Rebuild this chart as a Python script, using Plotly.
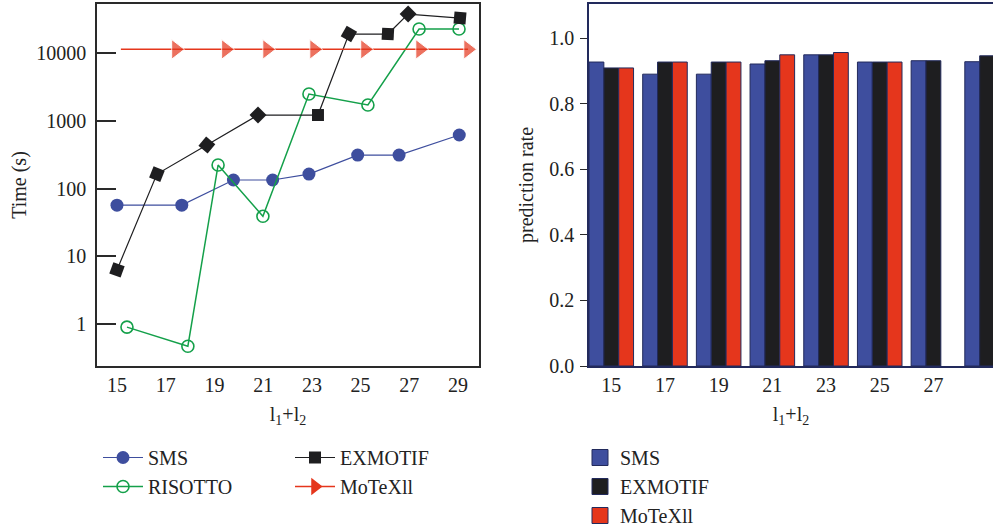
import plotly.graph_objects as go

# ---------------- data ----------------
# left panel: running time (s), log scale, x = l1+l2 as drawn
sms_x = [15.0, 17.66, 19.78, 21.39, 22.88, 24.88, 26.58, 29.05]
sms_y = [57, 57, 134, 134, 164, 313, 313, 619]

exm_x = [15.0, 16.64, 18.69, 20.79, 23.25, 24.52, 26.12, 26.95, 29.08]
exm_y = [6.3, 164, 441, 1222, 1222, 19200, 19200, 37900, 33100]

ris_x = [15.41, 17.91, 19.15, 20.99, 22.88, 25.30, 27.40, 29.04]
ris_y = [0.90, 0.47, 223, 39, 2500, 1718, 22800, 22800]

mot_x = [15.16, 17.42, 19.47, 21.16, 23.09, 25.18, 27.44, 29.41]
mot_y = [11400, 11400, 11400, 11400, 11400, 11400, 11400, 11400]

x_ticks = [15, 17, 19, 21, 23, 25, 27, 29]
y_ticks = [1, 10, 100, 1000, 10000]
y_tick_text = ["1", "10", "100", "1000", "10000"]

# right panel: prediction rate
cats = [15, 17, 19, 21, 23, 25, 27, 29]
sms_rate = [0.927, 0.890, 0.890, 0.921, 0.949, 0.927, 0.931, 0.928]
exm_rate = [0.909, 0.927, 0.927, 0.931, 0.949, 0.927, 0.931, 0.946]
mot_rate = [0.909, 0.927, 0.927, 0.949, 0.956, 0.927, None, None]
rate_ticks = [0.0, 0.2, 0.4, 0.6, 0.8, 1.0]
rate_tick_text = ["0.0", "0.2", "0.4", "0.6", "0.8", "1.0"]

# ---------------- styles ----------------
BLUE = "#3e4e9e"
BLACK = "#1e1e20"
GREEN = "#14a04a"
RED = "#e5361c"
NAVY = "#222a5c"
FONT = "Liberation Serif"
TXT = "#222222"
exm_angles = [20, 22, 40, 45, 0, 30, 3, 45, 5]
mot_sizes = [0, 17, 17, 17, 17, 17, 17, 17]

fig = go.Figure()

line_series = [
    ("SMS", sms_x, sms_y, dict(color=BLUE, width=1.2),
     dict(symbol="circle", size=13, color=BLUE), "legend"),
    ("RISOTTO", ris_x, ris_y, dict(color=GREEN, width=1.5),
     dict(symbol="circle-open", size=12, color=GREEN, line=dict(width=1.6, color=GREEN)), "legend"),
    ("EXMOTIF", exm_x, exm_y, dict(color=BLACK, width=1.2),
     dict(symbol="square", size=12, color=BLACK, angle=exm_angles), "legend2"),
    ("MoTeXll", mot_x, mot_y, dict(color=RED, width=1.5),
     dict(symbol="triangle-right", size=mot_sizes, color=RED), "legend2"),
]
for name, xs, ys, ln, mk, lg in line_series:
    fig.add_trace(go.Scatter(x=xs, y=ys, name=name, mode="lines+markers",
                             line=ln, marker=mk, xaxis="x", yaxis="y", showlegend=False))
    # legend entry with an upright marker
    mk_leg = dict(mk)
    mk_leg.pop("angle", None)
    if isinstance(mk_leg.get("size"), list):
        mk_leg["size"] = 15
    fig.add_trace(go.Scatter(x=[None], y=[None], name=name, mode="lines+markers",
                             line=ln, marker=mk_leg, xaxis="x", yaxis="y", legend=lg))

for name, vals, col in [("SMS", sms_rate, BLUE), ("EXMOTIF", exm_rate, BLACK), ("MoTeXll", mot_rate, RED)]:
    fig.add_trace(go.Bar(
        x=cats, y=vals, name=name, showlegend=False,
        marker=dict(color=col, line=dict(color=NAVY, width=1)),
        xaxis="x2", yaxis="y2"))
    fig.add_trace(go.Scatter(
        x=[None], y=[None], name=name, mode="markers",
        marker=dict(symbol="square", size=17, color=col, line=dict(color=NAVY, width=1)),
        xaxis="x2", yaxis="y2", legend="legend3"))

W, H = 993, 529
def px(v):
    return v / W
def py(v):
    return 1 - v / H

axis_font = dict(family=FONT, size=20, color=TXT)
leg_font = dict(family=FONT, size=20, color=TXT)

fig.update_layout(
    width=W, height=H,
    margin=dict(l=0, r=0, t=0, b=0, autoexpand=False),
    paper_bgcolor="white", plot_bgcolor="white",
    font=dict(family=FONT, size=20, color=TXT),
    barmode="group", bargap=0.17, bargroupgap=0,
    xaxis=dict(
        domain=[px(97), px(479)], range=[14.18, 29.86],
        tickvals=x_ticks, ticktext=[str(v) for v in x_ticks],
        showgrid=False, zeroline=False, showline=True, linecolor="#2a2a2a", linewidth=1.5,
        mirror=True, ticks="", tickfont=axis_font, ticklabelstandoff=0,
        title=dict(text="l<sub>1</sub>+l<sub>2</sub>", font=axis_font, standoff=12),
        anchor="y"),
    yaxis=dict(
        domain=[py(366), py(4)], type="log", range=[-0.620, 4.727],
        tickvals=y_ticks, ticktext=y_tick_text,
        showgrid=False, zeroline=False, showline=True, linecolor="#2a2a2a", linewidth=1.5,
        mirror=True, ticks="inside", ticklen=19, tickwidth=1.5, tickcolor="#2a2a2a",
        tickfont=axis_font, ticklabelstandoff=5,
        title=dict(text="Time (s)", font=axis_font, standoff=4),
        anchor="x"),
    xaxis2=dict(
        domain=[px(589), 1.0], range=[14.17, 29.22],
        tickvals=cats, ticktext=[str(v) for v in cats],
        showgrid=False, zeroline=False, showline=True, linecolor=NAVY, linewidth=1.5,
        mirror=True, ticks="", tickfont=axis_font, ticklabelstandoff=0,
        title=dict(text="l<sub>1</sub>+l<sub>2</sub>", font=axis_font, standoff=12),
        anchor="y2"),
    yaxis2=dict(
        domain=[py(366), py(4)], range=[0, 1.104],
        tickvals=rate_ticks, ticktext=rate_tick_text,
        showgrid=False, zeroline=False, showline=True, linecolor=NAVY, linewidth=1.5,
        ticks="outside", ticklen=7, tickwidth=1.2, tickcolor="#2a2a2a",
        tickfont=axis_font, ticklabelstandoff=2,
        title=dict(text="prediction rate", font=axis_font, standoff=10),
        anchor="x2"),
    legend=dict(x=px(98), y=py(438), xanchor="left", yanchor="top",
                bgcolor="rgba(0,0,0,0)", font=leg_font, itemwidth=40, tracegroupgap=0),
    legend2=dict(x=px(290), y=py(438), xanchor="left", yanchor="top",
                 bgcolor="rgba(0,0,0,0)", font=leg_font, itemwidth=40, tracegroupgap=0),
    legend3=dict(x=px(580), y=py(438), xanchor="left", yanchor="top",
                 bgcolor="rgba(0,0,0,0)", font=leg_font, itemwidth=30, tracegroupgap=0),
)

fig.write_html("out.html", config={"displayModeBar": False},
               post_script="document.body.style.margin='0';")
